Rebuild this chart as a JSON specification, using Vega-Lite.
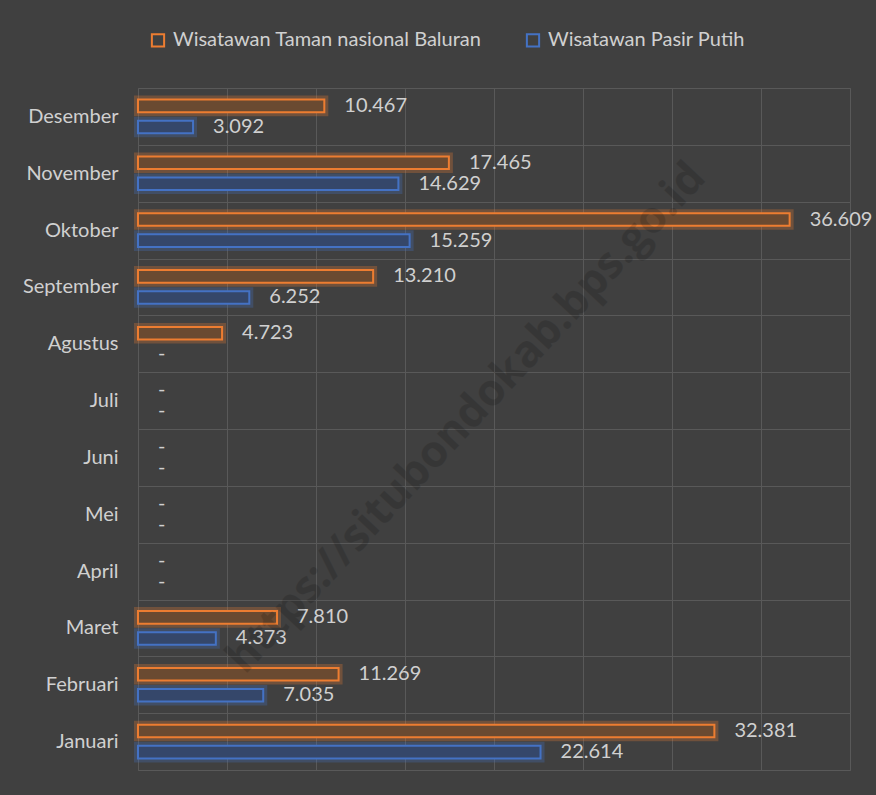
{
  "$schema": "https://vega.github.io/schema/vega-lite/v6.json",
  "width": 712,
  "height": 682,
  "autosize": {"type": "none"},
  "padding": {"left": 138, "top": 88, "right": 26, "bottom": 25},
  "background": "#404040",
  "config": {
    "view": {"stroke": "#595959", "strokeWidth": 1},
    "font": "Lato",
    "axis": {"gridColor": "#595959", "gridWidth": 1, "domain": false, "ticks": false}
  },
  "data": {
    "values": [
      {"month": "Januari", "series": "Wisatawan Taman nasional Baluran", "value": 32381},
      {"month": "Januari", "series": "Wisatawan Pasir Putih", "value": 22614},
      {"month": "Februari", "series": "Wisatawan Taman nasional Baluran", "value": 11269},
      {"month": "Februari", "series": "Wisatawan Pasir Putih", "value": 7035},
      {"month": "Maret", "series": "Wisatawan Taman nasional Baluran", "value": 7810},
      {"month": "Maret", "series": "Wisatawan Pasir Putih", "value": 4373},
      {"month": "April", "series": "Wisatawan Taman nasional Baluran", "value": null},
      {"month": "April", "series": "Wisatawan Pasir Putih", "value": null},
      {"month": "Mei", "series": "Wisatawan Taman nasional Baluran", "value": null},
      {"month": "Mei", "series": "Wisatawan Pasir Putih", "value": null},
      {"month": "Juni", "series": "Wisatawan Taman nasional Baluran", "value": null},
      {"month": "Juni", "series": "Wisatawan Pasir Putih", "value": null},
      {"month": "Juli", "series": "Wisatawan Taman nasional Baluran", "value": null},
      {"month": "Juli", "series": "Wisatawan Pasir Putih", "value": null},
      {"month": "Agustus", "series": "Wisatawan Taman nasional Baluran", "value": 4723},
      {"month": "Agustus", "series": "Wisatawan Pasir Putih", "value": null},
      {"month": "September", "series": "Wisatawan Taman nasional Baluran", "value": 13210},
      {"month": "September", "series": "Wisatawan Pasir Putih", "value": 6252},
      {"month": "Oktober", "series": "Wisatawan Taman nasional Baluran", "value": 36609},
      {"month": "Oktober", "series": "Wisatawan Pasir Putih", "value": 15259},
      {"month": "November", "series": "Wisatawan Taman nasional Baluran", "value": 17465},
      {"month": "November", "series": "Wisatawan Pasir Putih", "value": 14629},
      {"month": "Desember", "series": "Wisatawan Taman nasional Baluran", "value": 10467},
      {"month": "Desember", "series": "Wisatawan Pasir Putih", "value": 3092}
    ]
  },
  "transform": [
    {"calculate": "datum.value == null ? '-' : replace(format(datum.value, ','), ',', '.')", "as": "label"},
    {"calculate": "datum.value == null ? 0 : datum.value", "as": "labelX"}
  ],
  "encoding": {
    "y": {
      "field": "month",
      "type": "nominal",
      "sort": ["Desember", "November", "Oktober", "September", "Agustus", "Juli", "Juni", "Mei", "April", "Maret", "Februari", "Januari"],
      "scale": {"paddingInner": 0, "paddingOuter": 0},
      "axis": {"title": null, "tickBand": "extent", "grid": true, "labelFont": "Lato", "labelFontSize": 20, "labelFontWeight": 400, "labelColor": "#d0d0d0", "labelPadding": 20}
    },
    "yOffset": {
      "field": "series",
      "type": "nominal",
      "sort": ["Wisatawan Taman nasional Baluran", "Wisatawan Pasir Putih"],
      "scale": {"paddingInner": 0.4, "paddingOuter": 0.55}
    }
  },
  "resolve": {"scale": {"stroke": "independent"}, "legend": {"stroke": "independent"}},
  "layer": [
    {
      "mark": {"type": "bar", "fillOpacity": 0, "strokeWidth": 8, "strokeOpacity": 0.28},
      "encoding": {
        "x": {"field": "value", "type": "quantitative", "scale": {"domain": [0, 40000], "nice": false}, "axis": {"title": null, "labels": false, "grid": true, "values": [0, 5000, 10000, 15000, 20000, 25000, 30000, 35000, 40000]}},
        "stroke": {"field": "series", "type": "nominal", "sort": ["Wisatawan Taman nasional Baluran", "Wisatawan Pasir Putih"], "scale": {"range": ["#ED7D31", "#4472C4"]}, "legend": null}
      }
    },
    {
      "mark": {"type": "bar", "strokeWidth": 2},
      "encoding": {
        "x": {"field": "value", "type": "quantitative"},
        "stroke": {"field": "series", "type": "nominal", "sort": ["Wisatawan Taman nasional Baluran", "Wisatawan Pasir Putih"], "scale": {"range": ["#ED7D31", "#4472C4"]},
          "legend": {"orient": "none", "legendX": 10, "legendY": -58, "direction": "horizontal", "title": null, "symbolType": "square", "symbolSize": 150, "symbolStrokeWidth": 2, "symbolFillColor": "#404040", "symbolOpacity": 1, "labelFont": "Lato", "labelFontSize": 20, "labelFontWeight": 400, "labelColor": "#d0d0d0", "labelOffset": 5, "columnPadding": 40, "labelLimit": 400}},
        "fill": {"field": "series", "type": "nominal", "sort": ["Wisatawan Taman nasional Baluran", "Wisatawan Pasir Putih"], "scale": {"range": ["#6a4a31", "#35476a"]}, "legend": null}
      }
    },
    {
      "mark": {"type": "text", "align": "left", "baseline": "middle", "dx": 20, "fontSize": 20, "fontWeight": 400, "font": "Lato", "color": "#d0d0d0"},
      "encoding": {
        "x": {"field": "labelX", "type": "quantitative"},
        "text": {"field": "label"}
      }
    },
    {
      "data": {"values": [{"wm": "https://situbondokab.bps.go.id"}]},
      "mark": {"type": "text", "angle": -47, "fontSize": 44, "fontWeight": "bold", "font": "Open Sans", "color": "#000000", "opacity": 0.14, "align": "center", "baseline": "middle", "dy": 26},
      "encoding": {
        "x": {"datum": 17400, "type": "quantitative"},
        "y": {"datum": "Juli", "type": "nominal"},
        "yOffset": null,
        "text": {"field": "wm"}
      }
    }
  ]
}
